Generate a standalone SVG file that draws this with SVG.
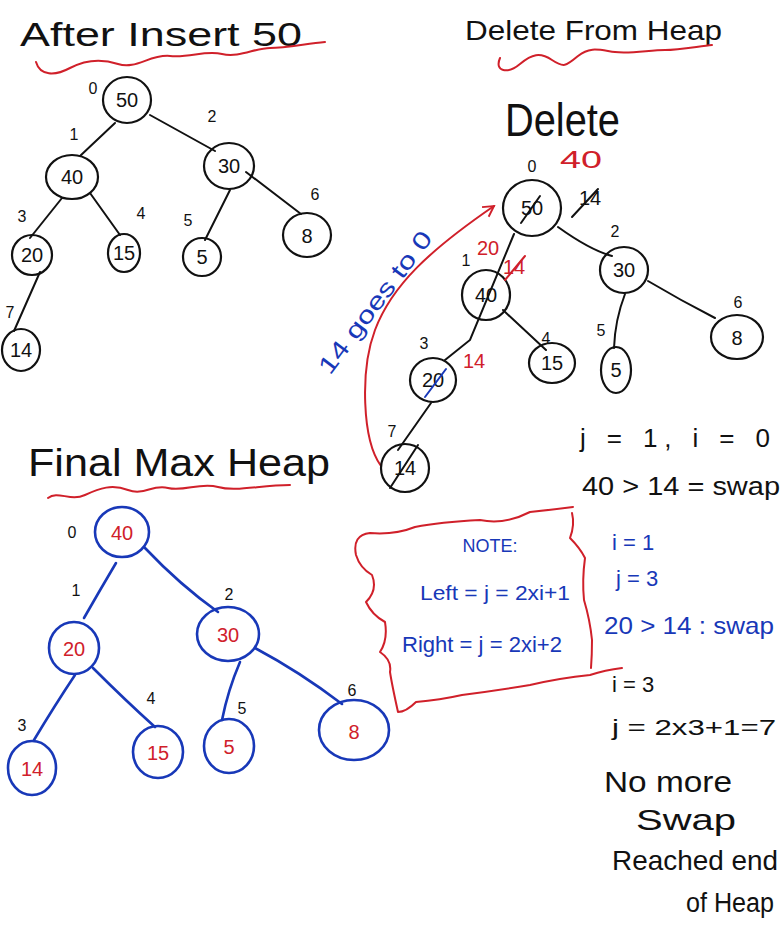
<svg xmlns="http://www.w3.org/2000/svg" width="784" height="941" viewBox="0 0 784 941">
<defs>
<style>
text{font-family:"Liberation Sans","DejaVu Sans",sans-serif;}
.k{fill:#111;}
.r{fill:#d0202a;}
.b{fill:#1838b8;}
.n{font-size:20px;text-anchor:middle;}
.ix{font-size:16px;text-anchor:middle;fill:#111;}
.ck{fill:none;stroke:#111;stroke-width:2.2;}
.cb{fill:none;stroke:#1838b8;stroke-width:2.6;}
.ek{fill:none;stroke:#111;stroke-width:2;stroke-linecap:round;}
.eb{fill:none;stroke:#1838b8;stroke-width:2.6;stroke-linecap:round;}
.wr{fill:none;stroke:#d0202a;stroke-width:2;stroke-linecap:round;stroke-linejoin:round;}
.sl{stroke-width:2;stroke-linecap:round;}
</style>
<marker id="ah" viewBox="0 0 12 12" refX="10" refY="6" markerWidth="14" markerHeight="14" orient="auto" markerUnits="userSpaceOnUse">
<path d="M1 1 L10 6 L1 11" fill="none" stroke="#d0202a" stroke-width="1.6"/>
</marker>
</defs>
<rect width="784" height="941" fill="#fff"/>

<!-- Titles -->
<g id="titles">
<text x="20" y="46" class="k" font-size="34" textLength="282" lengthAdjust="spacingAndGlyphs">After Insert 50</text>
<path class="wr" d="M36 62 C40 76 55 76 70 68 S100 58 118 64 S150 54 170 56 S205 50 222 54 S255 48 270 48 S305 44 325 42"/>
<text x="465" y="40" class="k" font-size="28" textLength="257" lengthAdjust="spacingAndGlyphs">Delete From Heap</text>
<path class="wr" d="M500 58 C494 72 508 74 520 64 S540 52 552 60 S566 66 578 56 S600 50 615 52 S650 50 665 50 S700 46 712 45"/>
<text x="505" y="136" class="k" font-size="46" textLength="115" lengthAdjust="spacingAndGlyphs">Delete</text>
<text x="28" y="476" class="k" font-size="38" textLength="302" lengthAdjust="spacingAndGlyphs">Final Max Heap</text>
<path class="wr" d="M48 498 C58 490 70 502 85 495 S112 484 128 490 S152 484 168 488 S200 482 218 487 S260 485 290 485"/>
</g>

<!-- Connectors -->
<g id="connectors">
<path class="ek" d="M115 123 L80 156"/>
<path class="ek" d="M150 115 L215 151"/>
<path class="ek" d="M62 198 L30 238"/>
<path class="ek" d="M90 193 L120 235"/>
<path class="ek" d="M230 190 L205 240"/>
<path class="ek" d="M246 172 L301 214"/>
<path class="ek" d="M40 272 L14 331"/>
<path class="ek" d="M514 234 L470 340 L445 360"/>
<path class="ek" d="M558 227 Q590 250 612 256"/>
<path class="ek" d="M503 310 L546 350"/>
<path class="ek" d="M625 294 Q615 320 614 348"/>
<path class="ek" d="M648 281 Q680 300 715 318"/>
<path class="ek" d="M431 403 L398 450"/>
<path class="wr" d="M381 466 C362 440 360 370 375 330 C392 285 430 250 494 206" marker-end="url(#ah)"/>
<path class="eb" d="M116 563 Q100 590 84 618"/>
<path class="eb" d="M145 548 Q180 585 218 612"/>
<path class="eb" d="M75 675 Q55 705 34 740"/>
<path class="eb" d="M93 668 Q125 700 155 727"/>
<path class="eb" d="M240 662 Q228 690 222 720"/>
<path class="eb" d="M255 648 Q300 672 342 704"/>
</g>

<!-- Tree 1 nodes -->
<g id="t1-n0"><ellipse class="ck" cx="127" cy="100" rx="24" ry="23"/><text x="127" y="107" class="n k">50</text><text x="93" y="94" class="ix">0</text></g>
<g id="t1-n1"><ellipse class="ck" cx="72" cy="177" rx="26" ry="22"/><text x="72" y="184" class="n k">40</text><text x="74" y="140" class="ix">1</text></g>
<g id="t1-n2"><ellipse class="ck" cx="229" cy="166" rx="25" ry="23"/><text x="229" y="173" class="n k">30</text><text x="212" y="122" class="ix">2</text></g>
<g id="t1-n3"><ellipse class="ck" cx="32" cy="255" rx="20" ry="20"/><text x="32" y="262" class="n k">20</text><text x="22" y="222" class="ix">3</text></g>
<g id="t1-n4"><ellipse class="ck" cx="124" cy="253" rx="16" ry="19"/><text x="124" y="260" class="n k">15</text><text x="141" y="219" class="ix">4</text></g>
<g id="t1-n5"><ellipse class="ck" cx="202" cy="257" rx="19" ry="19"/><text x="202" y="264" class="n k">5</text><text x="188" y="226" class="ix">5</text></g>
<g id="t1-n6"><ellipse class="ck" cx="307" cy="235" rx="24" ry="22"/><text x="307" y="243" class="n k">8</text><text x="315" y="200" class="ix">6</text></g>
<g id="t1-n7"><ellipse class="ck" cx="21" cy="350" rx="19" ry="21"/><text x="21" y="357" class="n k">14</text><text x="10" y="318" class="ix">7</text></g>

<!-- Tree 2 nodes (delete) -->
<g id="t2-n0"><ellipse class="ck" cx="532" cy="208" rx="29" ry="28"/><text x="532" y="215" class="n k">50</text><line x1="521" y1="223" x2="540" y2="196" stroke="#111" class="sl"/><text x="532" y="172" class="ix">0</text>
<text x="560" y="168" class="r" font-size="24" textLength="42" lengthAdjust="spacingAndGlyphs">40</text>
<text x="590" y="205" class="n k">14</text><line x1="572" y1="217" x2="598" y2="189" stroke="#111" class="sl"/></g>
<g id="t2-n1"><ellipse class="ck" cx="486" cy="295" rx="24" ry="25"/><text x="486" y="302" class="n k">40</text><text x="466" y="266" class="ix">1</text>
<text x="488" y="255" class="n r">20</text><text x="514" y="274" class="n r">14</text><line x1="505" y1="280" x2="525" y2="256" stroke="#d0202a" class="sl"/></g>
<g id="t2-n2"><ellipse class="ck" cx="624" cy="270" rx="24" ry="23"/><text x="624" y="277" class="n k">30</text><text x="615" y="237" class="ix">2</text></g>
<g id="t2-n3"><ellipse class="ck" cx="433" cy="380" rx="23" ry="22"/><text x="433" y="387" class="n k">20</text><line x1="425" y1="397" x2="446" y2="369" stroke="#1838b8" class="sl"/><text x="424" y="349" class="ix">3</text>
<text x="474" y="368" class="n r">14</text></g>
<g id="t2-n4"><ellipse class="ck" cx="552" cy="363" rx="23" ry="20"/><text x="552" y="370" class="n k">15</text><text x="546" y="344" class="ix">4</text></g>
<g id="t2-n5"><ellipse class="ck" cx="616" cy="370" rx="15" ry="23"/><text x="616" y="377" class="n k">5</text><text x="601" y="336" class="ix">5</text></g>
<g id="t2-n6"><ellipse class="ck" cx="737" cy="337" rx="26" ry="22"/><text x="737" y="345" class="n k">8</text><text x="738" y="308" class="ix">6</text></g>
<g id="t2-n7"><ellipse class="ck" cx="405" cy="468" rx="24" ry="24"/><text x="405" y="475" class="n k">14</text><line x1="390" y1="488" x2="418" y2="445" stroke="#111" class="sl"/><text x="392" y="437" class="ix">7</text></g>
<text id="goes-label" transform="translate(330,376) rotate(-53)" class="b" font-size="24" textLength="172" lengthAdjust="spacingAndGlyphs">14 goes to 0</text>

<!-- Delete annotations -->
<g id="steps">
<text x="580" y="447" class="k" font-size="26" textLength="190" lengthAdjust="spacing">j = 1,  i = 0</text>
<text x="582" y="495" class="k" font-size="26" textLength="198" lengthAdjust="spacingAndGlyphs">40 &gt; 14 = swap</text>
<text x="612" y="550" class="b" font-size="22">i = 1</text>
<text x="616" y="586" class="b" font-size="22">j = 3</text>
<text x="604" y="634" class="b" font-size="24" textLength="170" lengthAdjust="spacingAndGlyphs">20 &gt; 14 : swap</text>
<text x="612" y="692" class="k" font-size="22">i = 3</text>
<text x="612" y="735" class="k" font-size="22" textLength="164" lengthAdjust="spacingAndGlyphs">j = 2x3+1=7</text>
<text x="604" y="792" class="k" font-size="30" textLength="128" lengthAdjust="spacingAndGlyphs">No more</text>
<text x="636" y="830" class="k" font-size="30" textLength="100" lengthAdjust="spacingAndGlyphs">Swap</text>
<text x="612" y="870" class="k" font-size="28" textLength="166" lengthAdjust="spacingAndGlyphs">Reached end</text>
<text x="686" y="912" class="k" font-size="27" textLength="88" lengthAdjust="spacingAndGlyphs">of Heap</text>
</g>

<!-- Note box -->
<g id="note">
<path class="wr" d="M573 507 Q550 510 530 512 Q505 525 480 520 Q440 522 415 527 Q395 535 370 533 Q352 535 356 555 Q360 568 372 575 Q378 590 366 602 Q372 615 385 622 Q388 640 380 652 Q392 660 390 672 Q392 685 398 712 Q406 712 416 702 Q440 700 462 695 Q500 690 530 685 Q560 678 590 675 Q605 670 622 668"/>
<path class="wr" d="M572 513 Q575 525 570 538 Q580 548 585 558 Q582 580 584 600 Q590 620 592 640 Q592 655 591 668"/>
<text x="490" y="552" class="b" font-size="18" text-anchor="middle">NOTE:</text>
<text x="420" y="600" class="b" font-size="20" textLength="150" lengthAdjust="spacingAndGlyphs">Left = j = 2xi+1</text>
<text x="402" y="652" class="b" font-size="22" textLength="160" lengthAdjust="spacingAndGlyphs">Right = j = 2xi+2</text>
</g>

<!-- Final heap nodes -->
<g id="fh-n0"><ellipse class="cb" cx="122" cy="532" rx="27" ry="25"/><text x="122" y="540" class="n r">40</text><text x="72" y="538" class="ix">0</text></g>
<g id="fh-n1"><ellipse class="cb" cx="74" cy="648" rx="25" ry="26"/><text x="74" y="656" class="n r">20</text><text x="76" y="596" class="ix">1</text></g>
<g id="fh-n2"><ellipse class="cb" cx="228" cy="634" rx="31" ry="27"/><text x="228" y="642" class="n r">30</text><text x="229" y="600" class="ix">2</text></g>
<g id="fh-n3"><ellipse class="cb" cx="32" cy="768" rx="24" ry="27"/><text x="32" y="776" class="n r">14</text><text x="22" y="731" class="ix">3</text></g>
<g id="fh-n4"><ellipse class="cb" cx="158" cy="752" rx="25" ry="26"/><text x="158" y="760" class="n r">15</text><text x="151" y="704" class="ix">4</text></g>
<g id="fh-n5"><ellipse class="cb" cx="229" cy="746" rx="25" ry="27"/><text x="229" y="754" class="n r">5</text><text x="242" y="714" class="ix">5</text></g>
<g id="fh-n6"><ellipse class="cb" cx="354" cy="730" rx="35" ry="30"/><text x="354" y="739" class="n r">8</text><text x="352" y="696" class="ix">6</text></g>
</svg>
